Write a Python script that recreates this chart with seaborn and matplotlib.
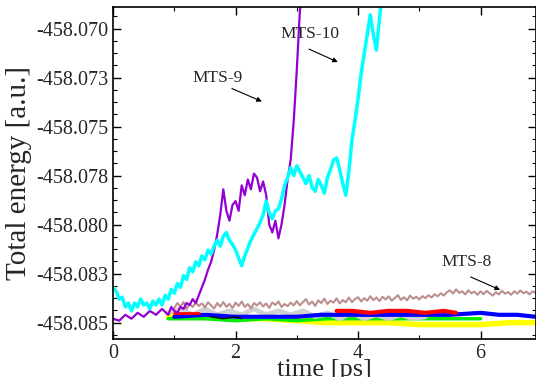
import numpy as np
import pandas as pd
import seaborn as sns
import matplotlib.pyplot as plt
from matplotlib.ticker import FixedLocator, FixedFormatter, AutoMinorLocator

# MTS-10 (cyan)
t_mts10 = [0.00, 0.05, 0.10, 0.15, 0.20, 0.25, 0.30, 0.35, 0.40, 0.45,
           0.50, 0.55, 0.60, 0.65, 0.70, 0.75, 0.80, 0.85, 0.90, 0.95,
           1.00, 1.05, 1.10, 1.15, 1.20, 1.25, 1.30, 1.35, 1.40, 1.45,
           1.50, 1.55, 1.60, 1.65, 1.70, 1.75, 1.80, 1.85, 1.90, 1.95,
           2.00, 2.05, 2.10, 2.15, 2.20, 2.25, 2.30, 2.35, 2.40, 2.45,
           2.50, 2.55, 2.60, 2.65, 2.70, 2.75, 2.80, 2.85, 2.90, 2.95,
           3.00, 3.05, 3.10, 3.15, 3.20, 3.25, 3.30, 3.35, 3.40, 3.45,
           3.50, 3.55, 3.60, 3.65, 3.70, 3.75, 3.80, 3.85, 3.90, 3.95,
           4.00, 4.05, 4.10, 4.15, 4.20, 4.25, 4.30, 4.35, 4.40]
e_mts10 = [-458.0832, -458.0834, -458.0838, -458.0837, -458.0842, -458.0840, -458.0844, -458.0840, -458.0842, -458.0838,
           -458.0841, -458.0840, -458.0843, -458.0839, -458.0841, -458.0838, -458.0841, -458.0836, -458.0838, -458.0833,
           -458.0835, -458.0830, -458.0832, -458.0826, -458.0828, -458.0822, -458.0824, -458.0819, -458.0821, -458.0816,
           -458.0818, -458.0813, -458.0815, -458.0811, -458.0808, -458.0811, -458.0806, -458.0804, -458.0808, -458.0810,
           -458.0813, -458.0817, -458.0821, -458.0816, -458.0812, -458.0808, -458.0805, -458.0802, -458.0799, -458.0795,
           -458.0788, -458.0794, -458.0797, -458.0793, -458.0792, -458.0787, -458.0780, -458.0776, -458.0771, -458.0775,
           -458.0770, -458.0773, -458.0776, -458.0779, -458.0775, -458.0781, -458.0783, -458.0777, -458.0780, -458.0784,
           -458.0776, -458.0772, -458.0767, -458.0766, -458.0772, -458.0779, -458.0785, -458.0773, -458.0757, -458.0747,
           -458.0736, -458.0723, -458.0713, -458.0703, -458.0693, -458.0703, -458.0711, -458.0695, -458.0680]

# MTS-9 (purple)
t_mts9 = [0.0, 0.1, 0.2, 0.3, 0.4, 0.5, 0.6, 0.7, 0.8, 0.9, 0.95,
          1.00, 1.05, 1.10, 1.15, 1.20, 1.25, 1.30, 1.35, 1.40, 1.45,
          1.50, 1.55, 1.60, 1.65, 1.70, 1.75, 1.80, 1.85, 1.90, 1.95,
          2.00, 2.05, 2.10, 2.15, 2.20, 2.25, 2.30, 2.35, 2.40, 2.45,
          2.50, 2.55, 2.60, 2.65, 2.70, 2.75, 2.80, 2.85, 2.90, 2.95,
          3.00, 3.05, 3.10]
e_mts9 = [-458.0848, -458.0849, -458.0846, -458.0848, -458.0845, -458.0847, -458.0844, -458.0846, -458.0843, -458.0846, -458.0842,
          -458.0844, -458.0845, -458.0842, -458.0843, -458.0840, -458.0841, -458.0838, -458.0840, -458.0836, -458.0832,
          -458.0828, -458.0823, -458.0819, -458.0813, -458.0805, -458.0795, -458.0782, -458.0793, -458.0798, -458.0790,
          -458.0788, -458.0793, -458.0780, -458.0785, -458.0777, -458.0782, -458.0774, -458.0776, -458.0783, -458.0778,
          -458.0785, -458.0800, -458.0804, -458.0798, -458.0807, -458.0800, -458.0790, -458.0777, -458.0767, -458.0747,
          -458.0721, -458.0691, -458.0675]

# MTS-8 (rosy brown)
t_mts8 = [1.00, 1.05, 1.10, 1.15, 1.20, 1.25, 1.30, 1.35, 1.40, 1.45,
          1.50, 1.55, 1.60, 1.65, 1.70, 1.75, 1.80, 1.85, 1.90, 1.95,
          2.00, 2.05, 2.10, 2.15, 2.20, 2.25, 2.30, 2.35, 2.40, 2.45,
          2.50, 2.55, 2.60, 2.65, 2.70, 2.75, 2.80, 2.85, 2.90, 2.95,
          3.00, 3.05, 3.10, 3.15, 3.20, 3.25, 3.30, 3.35, 3.40, 3.45,
          3.50, 3.55, 3.60, 3.65, 3.70, 3.75, 3.80, 3.85, 3.90, 3.95,
          4.00, 4.05, 4.10, 4.15, 4.20, 4.25, 4.30, 4.35, 4.40, 4.45,
          4.50, 4.55, 4.60, 4.65, 4.70, 4.75, 4.80, 4.85, 4.90, 4.95,
          5.00, 5.05, 5.10, 5.15, 5.20, 5.25, 5.30, 5.35, 5.40, 5.45,
          5.50, 5.55, 5.60, 5.65, 5.70, 5.75, 5.80, 5.85, 5.90, 5.95,
          6.00, 6.05, 6.10, 6.15, 6.20, 6.25, 6.30, 6.35, 6.40, 6.45,
          6.50, 6.55, 6.60, 6.65, 6.70, 6.75, 6.80, 6.85, 6.90]
e_mts8 = [-458.08425, -458.08400, -458.08418, -458.08395, -458.08430, -458.08405, -458.08420, -458.08398, -458.08415, -458.08402,
          -458.08422, -458.08396, -458.08412, -458.08428, -458.08400, -458.08418, -458.08395, -458.08420, -458.08404, -458.08426,
          -458.08398, -458.08415, -458.08392, -458.08420, -458.08405, -458.08428, -458.08400, -458.08412, -458.08396, -458.08418,
          -458.08402, -458.08425, -458.08397, -458.08410, -458.08392, -458.08420, -458.08405, -458.08416, -458.08398, -458.08412,
          -458.08390, -458.08412, -458.08395, -458.08380, -458.08408, -458.08392, -458.08415, -458.08386, -458.08400, -458.08378,
          -458.08405, -458.08388, -458.08398, -458.08376, -458.08402, -458.08385, -458.08396, -458.08372, -458.08395, -458.08380,
          -458.08370, -458.08392, -458.08375, -458.08388, -458.08365, -458.08385, -458.08372, -458.08390, -458.08368, -458.08382,
          -458.08366, -458.08388, -458.08374, -458.08360, -458.08384, -458.08370, -458.08386, -458.08362, -458.08378, -458.08368,
          -458.08382, -458.08365, -458.08375, -458.08360, -458.08372, -458.08355, -458.08366, -458.08350, -458.08362, -458.08345,
          -458.08335, -458.08352, -458.08330, -458.08348, -458.08340, -458.08356, -458.08335, -458.08350, -458.08342, -458.08358,
          -458.08340, -458.08355, -458.08338, -458.08350, -458.08362, -458.08345, -458.08356, -458.08338, -458.08352, -458.08344,
          -458.08358, -458.08340, -458.08352, -458.08336, -458.08350, -458.08342, -458.08356, -458.08340, -458.08348]

# other runs
t_gray = [0.9, 1.1, 1.3, 1.5, 1.7, 1.9, 2.1, 2.3, 2.5, 2.7, 2.9, 3.1, 3.3, 3.5,
          3.7, 3.9, 4.1, 4.3, 4.5, 4.7, 4.9, 5.1]
e_gray = [-458.0845, -458.0843, -458.0846, -458.0843, -458.0846, -458.0844, -458.0846, -458.0843, -458.0846, -458.0844, -458.0846, -458.0844, -458.0847, -458.0845,
          -458.0848, -458.0845, -458.0848, -458.0846, -458.0848, -458.0846, -458.0848, -458.0847]

t_yellow = [0.9, 1.5, 2.0, 2.5, 3.0, 3.5, 4.0, 4.5, 5.0, 5.5, 6.0, 6.5, 6.9]
e_yellow = [-458.0847, -458.0847, -458.0848, -458.0848, -458.0849, -458.0850, -458.0850,
            -458.0850, -458.0851, -458.0851, -458.0851, -458.0850, -458.0850]

t_green = [0.9, 1.5, 2.0, 2.5, 3.0, 3.5, 4.0, 4.5, 5.0, 5.5, 6.0]
e_green = [-458.0848, -458.0848, -458.0849, -458.0848, -458.0849, -458.0848, -458.0848,
           -458.0848, -458.0848, -458.0848, -458.0848]

t_blue = [1.0, 1.5, 2.0, 2.5, 3.0, 3.4, 3.7, 4.0, 4.5, 5.0, 5.5, 6.0, 6.3, 6.6, 6.9]
e_blue = [-458.0847, -458.0846, -458.0847, -458.0847, -458.0847, -458.0846, -458.0846, -458.0846,
          -458.0846, -458.0846, -458.0846, -458.0845, -458.0846, -458.0846, -458.0847]

t_red = [1.0, 1.2, 1.4]
e_red = [-458.0845, -458.0845, -458.0845]
t_red2 = [3.65, 3.9, 4.2, 4.5, 4.8, 5.1, 5.4, 5.6]
e_red2 = [-458.0844, -458.0844, -458.0845, -458.0844, -458.0844, -458.0845, -458.0844, -458.0845]

t_black = [1.6, 1.8, 2.0, 2.1]
e_black = [-458.0847, -458.0848, -458.0847, -458.0848]

# axis ticks
ytick_values = [-458.0700, -458.0725, -458.0750, -458.0775, -458.0800, -458.0825, -458.0850]
ytick_labels = ["-458.070", "-458.073", "-458.075", "-458.078", "-458.080", "-458.083", "-458.085"]
xtick_values = [0, 2, 4, 6]

sns.set_style("ticks")
plt.rcParams['font.family'] = ['Liberation Serif', 'DejaVu Serif']

fig = plt.figure(figsize=(5.36, 3.77), dpi=100)
ax = fig.add_axes([0.211, 0.101, 0.789, 0.880])

def draw(t, e, color, lw):
    sns.lineplot(x=t, y=e, color=color, lw=lw, ax=ax, sort=False, estimator=None)

draw(t_yellow, e_yellow, '#ffff00', 4.0)
draw(t_green, e_green, '#00ee00', 2.5)
draw(t_gray, e_gray, '#d0d0d0', 3.5)
draw(t_blue, e_blue, '#0000ff', 3.0)
draw(t_red, e_red, '#ff0000', 2.0)
draw(t_red2, e_red2, '#ff0000', 3.0)
draw(t_black, e_black, '#000000', 1.0)
draw(t_mts8, e_mts8, '#bc8f8f', 1.5)
draw(t_mts9, e_mts9, '#9400d3', 1.6)
draw(t_mts10, e_mts10, '#00ffff', 2.5)

ax.set_xlim(0, 6.906)
ax.set_ylim(-458.08583, -458.06891)
ax.xaxis.set_major_locator(FixedLocator(xtick_values))
ax.xaxis.set_minor_locator(AutoMinorLocator(2))
ax.yaxis.set_major_locator(FixedLocator(ytick_values))
ax.yaxis.set_major_formatter(FixedFormatter(ytick_labels))
ax.yaxis.set_minor_locator(AutoMinorLocator(4))
ax.tick_params(which='both', direction='in', top=True, right=True, labelsize=14.5, color='k')
ax.tick_params(which='major', length=6, width=1)
ax.tick_params(which='minor', length=3, width=0.8)
for s in ax.spines.values():
    s.set_linewidth(1.2)
    s.set_color('k')

ax.set_xlabel('time [ps]', fontsize=19, labelpad=-3)
ax.set_ylabel('Total energy [a.u.]', fontsize=21, labelpad=3)

arrow = dict(arrowstyle='-|>', color='k', lw=0.8, mutation_scale=7, shrinkA=0, shrinkB=0)
ax.annotate('', xy=(2.43, -458.07372), xytext=(1.94, -458.07306), arrowprops=arrow)
ax.text(1.70, -458.07253, 'MTS-9', fontsize=12.5, ha='center', va='center')
ax.annotate('', xy=(3.67, -458.07171), xytext=(3.20, -458.07105), arrowprops=arrow)
ax.text(3.22, -458.07029, 'MTS-10', fontsize=12.5, ha='center', va='center')
ax.annotate('', xy=(6.32, -458.08333), xytext=(5.84, -458.08267), arrowprops=arrow)
ax.text(5.78, -458.08191, 'MTS-8', fontsize=12.5, ha='center', va='center')

fig.savefig('out.png', dpi=100)
